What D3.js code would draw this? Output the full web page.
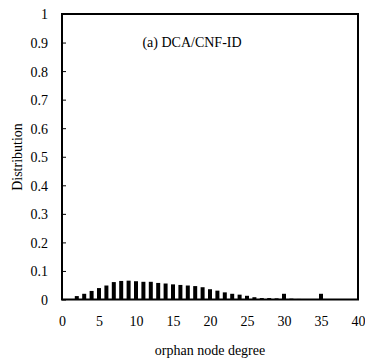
<!DOCTYPE html>
<html>
<head>
<meta charset="utf-8">
<script src="https://cdn.jsdelivr.net/npm/d3@7"></script>
<style>
  body { margin: 0; background: #fff; }
  text { font-family: "Liberation Serif", "Times New Roman", serif; fill: #000; }
</style>
</head>
<body>
<svg id="chart" width="365" height="363"></svg>
<script>
// orphan node degree and its distribution
const degrees = [2,3,4,5,6,7,8,9,10,11,12,13,14,15,16,17,18,19,20,21,22,23,24,25,26,27,28,29,30,31,32,33,34,35,36,37,38];
const dist = [0.012,0.02,0.03,0.04,0.049,0.061,0.065,0.066,0.064,0.062,0.062,0.058,0.056,0.053,0.051,0.049,0.047,0.043,0.036,0.031,0.025,0.02,0.017,0.013,0.008,0.005,0.005,0.004,0.02,0.003,0.002,0.001,0.001,0.02,0.001,0.001,0.001];
const xTicks = [0,5,10,15,20,25,30,35,40];
const yTicks = [0,0.1,0.2,0.3,0.4,0.5,0.6,0.7,0.8,0.9,1];

const svg = d3.select("#chart");
const mLeft = 62, mRight = 358, mTop = 14, mBottom = 299.5;
const fs = 14;

const x = d3.scaleLinear().domain([0,40]).range([mLeft,mRight]);
const y = d3.scaleLinear().domain([0,1]).range([mBottom,mTop]);

// bars
svg.selectAll("rect.bar")
  .data(degrees)
  .join("rect")
  .attr("class","bar")
  .attr("x", d => x(d) - 2)
  .attr("width", 4)
  .attr("y", (d,i) => y(dist[i]))
  .attr("height", (d,i) => mBottom - y(dist[i]))
  .style("fill","#000");

// y axis, ticks inside
const yAxis = d3.axisLeft(y).tickValues(yTicks).tickSize(-4).tickPadding(14)
  .tickFormat(d => d === 0 || d === 1 ? d3.format("d")(d) : d3.format(".1f")(d));
const gy = svg.append("g").attr("transform", `translate(${mLeft},0)`).call(yAxis);
gy.select(".domain").remove();
gy.selectAll(".tick line").attr("stroke","#000").attr("stroke-width",1);
gy.selectAll("text").attr("font-size", fs).attr("dy","0.35em");

// x axis labels
const xAxis = d3.axisBottom(x).tickValues(xTicks).tickSize(0).tickPadding(17);
const gx = svg.append("g").attr("transform", `translate(0,${mBottom})`).call(xAxis);
gx.select(".domain").remove();
gx.selectAll("text").attr("font-size", fs);

// frame
svg.append("rect")
  .attr("x", mLeft).attr("y", mTop)
  .attr("width", mRight - mLeft).attr("height", mBottom - mTop)
  .attr("fill","none").attr("stroke","#000").attr("stroke-width",2);

// title & axis labels
svg.append("text").attr("x", 192).attr("y", 47).attr("text-anchor","middle")
  .attr("font-size", fs).text("(a) DCA/CNF-ID");
svg.append("text").attr("transform","translate(22,157) rotate(-90)")
  .attr("text-anchor","middle").attr("font-size", fs).text("Distribution");
svg.append("text").attr("x", 210).attr("y", 355).attr("text-anchor","middle")
  .attr("font-size", fs).text("orphan node degree");
</script>
</body>
</html>
